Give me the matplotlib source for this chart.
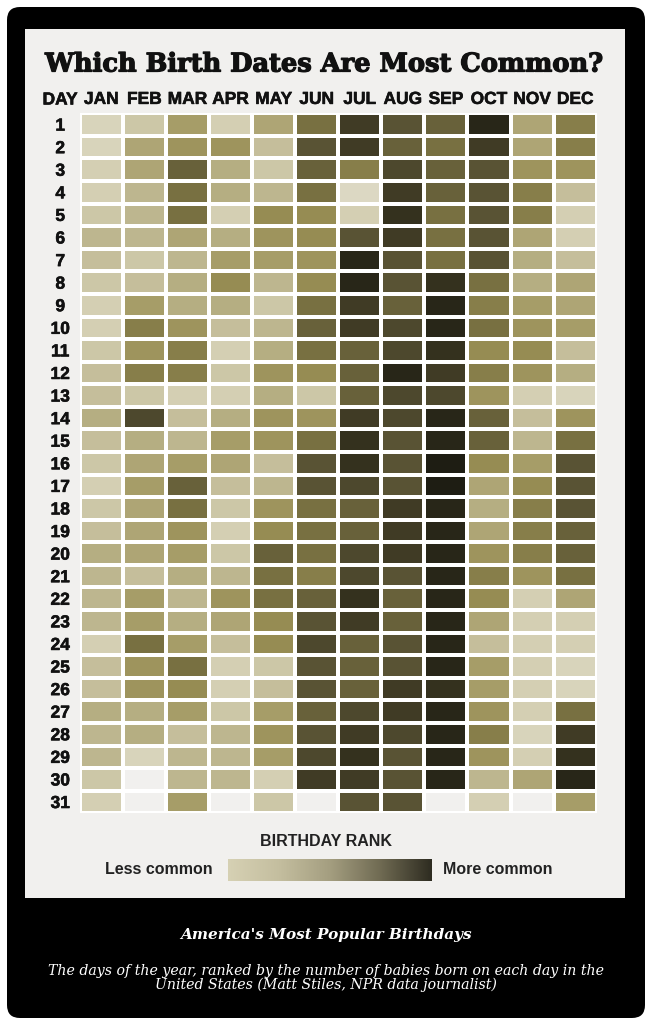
import numpy as np
import matplotlib
matplotlib.use('Agg')
import matplotlib.pyplot as plt
import matplotlib.patheffects as pe
from matplotlib import font_manager
from matplotlib.colors import LinearSegmentedColormap
from matplotlib.patches import FancyBboxPatch, Rectangle

# darkness score per day, 0 = less common ... 10 = more common (None = no such date)
months = ['JAN', 'FEB', 'MAR', 'APR', 'MAY', 'JUN',
          'JUL', 'AUG', 'SEP', 'OCT', 'NOV', 'DEC']
days = list(range(1, 32))

jan = [1, 1, 1.5, 1.5, 2, 3, 2.5, 2, 1.5, 1.5, 2, 2.5, 2.5, 3.5, 2.5, 2,
       1.5, 2, 2.5, 3.5, 3, 3, 3, 1.5, 2.5, 2.5, 3.5, 3, 3, 2, 1.5]
feb = [2, 4, 4, 3, 3, 3, 2, 2.5, 4.5, 6, 5, 6, 2, 8, 3.5, 4,
       4.5, 4, 4, 4, 2.5, 4.5, 4.5, 6.5, 5, 5, 3.5, 3.5, 1, None, None]
mar = [4.5, 5, 7, 6.5, 6.5, 4, 3, 3.5, 3.5, 5, 6, 6, 1.5, 2.5, 3, 4.5,
       7, 6.5, 5, 4.5, 3.5, 3, 3.5, 4.5, 6.5, 5.5, 4.5, 2.5, 3, 3, 4.5]
apr = [1.5, 5, 3.5, 3.5, 1.5, 3.5, 4.5, 5.5, 3.5, 2.5, 1.5, 2, 1.5, 3.5, 4.5, 4,
       2.5, 2, 1.5, 2, 3, 5, 4, 2.5, 1.5, 1.5, 2, 3, 3, 3, None]
may = [4, 2.5, 2, 3, 5.5, 5, 4.5, 3, 2, 3, 3.5, 5, 3.5, 5, 5, 2.5,
       3, 5, 5.5, 7, 6.5, 6.5, 5.5, 5.5, 2, 2.5, 4.5, 5, 4.5, 1.5, 2]
jun = [6.5, 7.5, 7, 6.5, 5.5, 5.5, 5, 5.5, 6.5, 7, 6.5, 5.5, 2, 5, 6.5, 7.5,
       7.5, 6.5, 6.5, 6.5, 6, 7, 7.5, 8, 7.5, 7.5, 7, 7.5, 8, 8.5, None]
jul = [8.5, 8.5, 6, 0.5, 1.5, 7.5, 9.5, 9.5, 8.5, 8.5, 7, 7, 7, 8.5, 9, 9,
       8, 7, 7, 8, 8, 9, 8.5, 7, 7, 7, 8, 8.5, 9, 8.5, 7.5]
aug = [7.5, 7, 8, 8.5, 9, 8.5, 7.5, 7.5, 7, 8, 8, 9.5, 8, 8, 7.5, 7.5,
       7.5, 8.5, 8.5, 8.5, 7.5, 7, 7, 7.5, 7.5, 8.5, 8.5, 8, 7.5, 7.5, 7.5]
sep = [7, 6.5, 7, 7, 6.5, 6.5, 6.5, 9, 9.5, 9.5, 9, 8.5, 8, 9.5, 9.5, 10,
       10, 9.5, 9.5, 9.5, 9.5, 9.5, 9.5, 9.5, 9.5, 9, 9.5, 9.5, 9.5, 9.5, None]
oct_ = [9.5, 8.5, 7.5, 7.5, 7.5, 7.5, 7.5, 6.5, 6, 6.5, 5.5, 6, 5, 7, 7, 5.5,
        4, 3.5, 4, 5, 6, 5.5, 4, 2.5, 4.5, 4.5, 5, 6, 5, 3, 1.5]
nov = [4, 4, 5, 6, 6, 4, 3.5, 3.5, 4.5, 5, 5.5, 5, 1.5, 2.5, 3, 4.5,
       5.5, 6, 6, 6, 5, 1.5, 1.5, 1.5, 1.5, 1.5, 1.5, 1, 1.5, 4, None]
dec = [6, 6, 5, 2.5, 1.5, 1.5, 2.5, 4, 4, 4.5, 2.5, 3.5, 1, 5, 6.5, 7.5,
       7.5, 7.5, 7, 7, 6.5, 4, 1.5, 1.5, 1, 1, 6.5, 8.5, 9, 9.5, 4.5]


def pick(*names):
    have = {f.name for f in font_manager.fontManager.ttflist}
    for n in names:
        if n in have:
            return n
    return 'DejaVu Sans'


narrow = pick('Liberation Sans Narrow', 'Liberation Sans', 'DejaVu Sans')
serif = 'DejaVu Serif'
heavy = [pe.withStroke(linewidth=0.9, foreground='#111111')]
semi = [pe.withStroke(linewidth=0.4, foreground='#111111')]

cols = [jan, feb, mar, apr, may, jun, jul, aug, sep, oct_, nov, dec]
grid = np.array([[np.nan if v is None else v for v in c] for c in cols],
                dtype=float).T
grid = np.ma.masked_invalid(grid)

stops = [(0.0, '#e0dccb'), (0.15, '#d4cfb3'), (0.30, '#bdb68f'),
         (0.45, '#a69d68'), (0.55, '#968c53'), (0.65, '#787041'),
         (0.75, '#5a5434'), (0.85, '#403b25'), (0.95, '#292718'),
         (1.0, '#1e1d13')]
cmap = LinearSegmentedColormap.from_list('birth', stops)
legend_cmap = LinearSegmentedColormap.from_list(
    'leg', ['#d6d1b4', '#c4be9f', '#a49e80', '#6f6a52', '#2e2c21'])

W, H = 653, 1028
fig = plt.figure(figsize=(W / 100, H / 100), dpi=100)
fig.patch.set_facecolor('white')

# background frame, drawn in pixel units
bg = fig.add_axes([0, 0, 1, 1])
bg.set_xlim(0, W)
bg.set_ylim(H, 0)
bg.axis('off')
bg.add_patch(FancyBboxPatch((7, 7), 638, 1011,
                            boxstyle='round,pad=0,rounding_size=13',
                            fc='black', ec='none'))
bg.add_patch(Rectangle((25, 29), 600, 869, fc='#f1f0ee', ec='none'))

bg.text(325, 64, 'Which Birth Dates Are Most Common?', ha='center',
        va='center', fontsize=18.5, fontweight='bold', family=serif,
        color='#111111', path_effects=heavy)
bg.text(60, 100, 'DAY', ha='center', va='center', fontsize=12.5,
        fontweight='bold', family=narrow, color='#111111', path_effects=semi)

# heatmap
x0, x1, y0, y1 = 79.7, 596.7, 113.3, 813.3
ax = fig.add_axes([x0 / W, 1 - y1 / H, (x1 - x0) / W, (y1 - y0) / H])
ax.pcolormesh(np.arange(13), np.arange(32), grid, cmap=cmap, vmin=0, vmax=10,
              edgecolors='white', linewidth=1.7)
ax.set_xlim(0, 12)
ax.set_ylim(31, 0)
ax.set_facecolor('#f1f0ee')
for s in ax.spines.values():
    s.set_visible(False)
ax.xaxis.tick_top()
ax.set_xticks(np.arange(12) + 0.5)
ax.set_xticklabels(months, fontsize=12.5, fontweight='bold', family=narrow,
                   color='#111111', va='center')
ax.set_yticks(np.arange(31) + 0.5)
ax.set_yticklabels([str(d) for d in days], fontsize=12.5, fontweight='bold',
                   family=narrow, color='#111111', ha='center')
for lab in ax.get_xticklabels() + ax.get_yticklabels():
    lab.set_path_effects(semi)
ax.tick_params(axis='x', length=0, pad=10)
ax.tick_params(axis='y', length=0, pad=14)

# legend
bg.text(326, 842, 'BIRTHDAY RANK', ha='center', va='center', fontsize=11.5,
        fontweight='bold', family=narrow, color='#222222')
bg.text(213, 870, 'Less common', ha='right', va='center', fontsize=11.5,
        fontweight='bold', family=narrow, color='#222222')
bg.text(443, 870, 'More common', ha='left', va='center', fontsize=11.5,
        fontweight='bold', family=narrow, color='#222222')
lax = fig.add_axes([228 / W, 1 - 881 / H, 204 / W, 22 / H])
lax.imshow(np.linspace(0, 1, 256)[None, :], aspect='auto', cmap=legend_cmap)
lax.axis('off')

# caption
bg.text(326, 935, "America's Most Popular Birthdays", ha='center', va='center',
        fontsize=11, fontweight='bold', style='italic', family=serif,
        color='white')
bg.text(326, 978, 'The days of the year, ranked by the number of babies born '
        'on each day in the\nUnited States (Matt Stiles, NPR data journalist)',
        ha='center', va='center', fontsize=10.2, style='italic', family=serif,
        color='white', linespacing=1.0)

fig.savefig('out.png', dpi=100, facecolor='white')
